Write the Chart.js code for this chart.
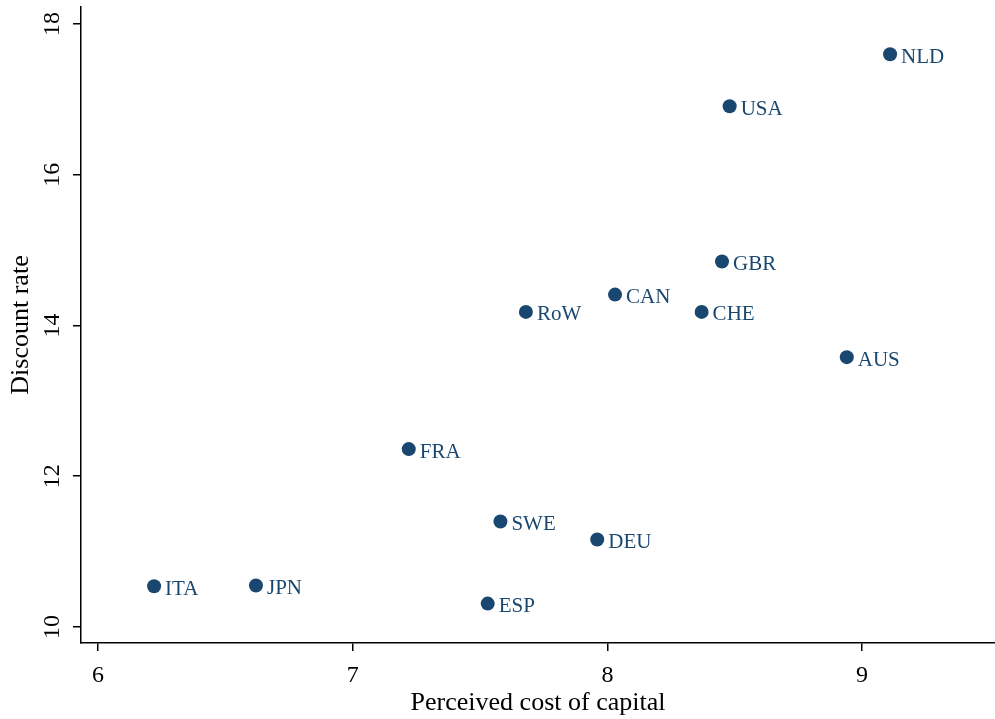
<!DOCTYPE html>
<html>
<head>
<meta charset="utf-8">
<script src="https://cdn.jsdelivr.net/npm/chart.js@4/dist/chart.umd.min.js"></script>
<style>
html,body{margin:0;padding:0;background:#fff;}
#wrap{width:995px;height:719px;}
</style>
</head>
<body>
<div id="wrap"><canvas id="c" width="995" height="719"></canvas></div>
<script>
const countries = ["NLD","USA","GBR","CAN","CHE","RoW","AUS","FRA","SWE","DEU","ITA","JPN","ESP"];
const costOfCapital = [9.11, 8.48, 8.45, 8.03, 8.37, 7.68, 8.94, 7.22, 7.58, 7.96, 6.22, 6.62, 7.53];
const discountRate = [17.60, 16.91, 14.85, 14.41, 14.18, 14.18, 13.58, 12.36, 11.40, 11.16, 10.54, 10.55, 10.31];
const xTickValues = [6, 7, 8, 9];
const yTickValues = [10, 12, 14, 16, 18];

const navy = '#1a476f';
const serif = "'Liberation Serif', 'Times New Roman', serif";

const labelPlugin = {
  id: 'pointLabels',
  afterDatasetsDraw(chart) {
    const ctx = chart.ctx;
    const meta = chart.getDatasetMeta(0);
    ctx.save();
    ctx.font = '21px ' + serif;
    ctx.fillStyle = navy;
    ctx.textAlign = 'left';
    ctx.textBaseline = 'middle';
    meta.data.forEach((pt, i) => {
      ctx.fillText(countries[i], pt.x + 11, pt.y + 3);
    });
    ctx.restore();
  }
};

new Chart(document.getElementById('c'), {
  type: 'scatter',
  data: {
    datasets: [{
      data: costOfCapital.map((x, i) => ({x: x, y: discountRate[i]})),
      backgroundColor: navy,
      borderColor: navy,
      pointRadius: 7,
      pointHoverRadius: 7,
      borderWidth: 0
    }]
  },
  options: {
    responsive: false,
    animation: false,
    layout: {autoPadding: false, padding: {top: 7, right: 0, left: 0, bottom: 0}},
    plugins: {legend: {display: false}, tooltip: {enabled: false}},
    scales: {
      x: {
        type: 'linear',
        min: 5.933,
        max: 9.522,
        afterBuildTicks(s) { s.ticks = xTickValues.map(v => ({value: v})); },
        afterFit(s) { s.height = 76; s.paddingLeft = 0; s.paddingRight = 0; s.paddingTop = 0; s.paddingBottom = 0; },
        grid: {drawOnChartArea: false, drawTicks: true, tickLength: 8, color: '#000', lineWidth: 1.5},
        border: {display: true, color: '#000', width: 1.5},
        ticks: {color: '#000', font: {family: serif, size: 24}, padding: 10, maxRotation: 0},
        title: {display: true, text: 'Perceived cost of capital', color: '#000', font: {family: serif, size: 26}, padding: {top: 0, bottom: 0}}
      },
      y: {
        type: 'linear',
        min: 9.787,
        max: 18.226,
        afterBuildTicks(s) { s.ticks = yTickValues.map(v => ({value: v})); },
        afterFit(s) { s.width = 81; s.paddingTop = 0; s.paddingBottom = 0; s.paddingLeft = 0; s.paddingRight = 0; },
        grid: {drawOnChartArea: false, drawTicks: true, tickLength: 8, color: '#000', lineWidth: 1.5},
        border: {display: true, color: '#000', width: 1.5},
        ticks: {color: '#000', font: {family: serif, size: 24}, padding: 8, minRotation: 90, maxRotation: 90, crossAlign: 'center'},
        title: {display: true, text: 'Discount rate', color: '#000', font: {family: serif, size: 26}, padding: {top: 6, bottom: 0}}
      }
    }
  },
  plugins: [labelPlugin]
});
</script>
</body>
</html>
